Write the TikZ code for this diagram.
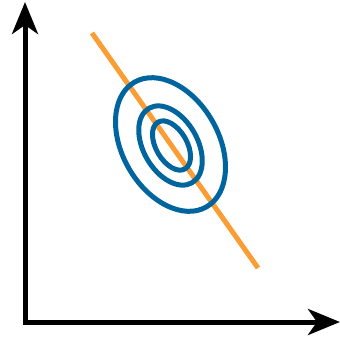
\documentclass[tikz,border=0pt]{standalone}
\usetikzlibrary{arrows.meta}
\definecolor{eblue}{RGB}{0,101,158}
\definecolor{lorange}{RGB}{250,157,52}
\begin{document}
\begin{tikzpicture}[x=1pt,y=-1pt,
  ell/.style={draw=eblue,line width=5pt},
  fit line/.style={draw=lorange,line width=5pt}]
\useasboundingbox (0,0) rectangle (340,338);
\draw[line width=5pt,{Stealth[length=32pt,width=26pt,inset=9pt]}-{Stealth[length=32pt,width=26pt,inset=9pt]},line join=miter] (25,2) -- (25,322) -- (340,322);
\draw[fit line] (92,33) -- (258,268);
\draw[ell,rotate around={-60:(170.5,144.5)}] (170.5,144.5) ellipse [x radius=72, y radius=48];
\draw[ell,rotate around={-60:(170.5,145.5)}] (170.5,145.5) ellipse [x radius=43, y radius=27];
\draw[ell,rotate around={-60:(171.5,145.5)}] (171.5,145.5) ellipse [x radius=27, y radius=15.5];
\end{tikzpicture}
\end{document}
